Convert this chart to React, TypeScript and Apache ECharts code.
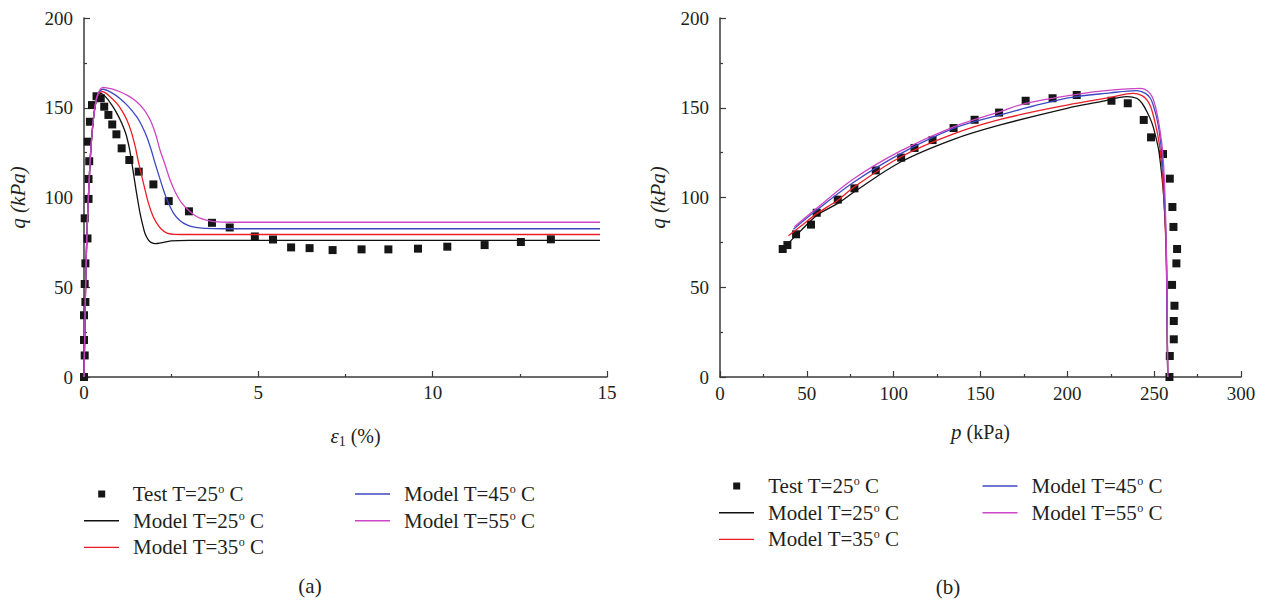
import React, { useEffect, useRef } from "react";
import * as echarts from "echarts";

const FONT = "Liberation Serif";
const INK = "#231f20";

const TEST = "Test T=25º C";
const M25 = "Model T=25º C";
const M35 = "Model T=35º C";
const M45 = "Model T=45º C";
const M55 = "Model T=55º C";

const C25 = "#111111";
const C35 = "#ec1c24";
const C45 = "#3b48c2";
const C55 = "#cc45c4";

// ---------- (a) q vs axial strain ----------
const testStrain: [number, number][] = [
  [0, 0], [0.02, 12], [0, 20.6], [0, 34.4], [0.04, 41.8], [0.02, 51.8], [0.04, 63.3],
  [0.1, 77.2], [0.02, 88.4], [0.13, 99.2], [0.13, 110.3], [0.15, 120.2], [0.11, 131.1],
  [0.17, 142.2], [0.23, 151.5], [0.36, 156.4], [0.48, 155.3], [0.58, 150.6], [0.7, 146],
  [0.81, 140.7], [0.93, 135.2], [1.08, 127.4], [1.3, 120.9], [1.57, 114.4], [1.99, 107.3],
  [2.43, 98], [3.01, 92.3], [3.67, 85.9], [4.18, 83.3], [4.9, 78.3], [5.42, 76.6],
  [5.94, 72.2], [6.47, 71.8], [7.13, 70.7], [7.96, 71.1], [8.73, 71.1], [9.58, 71.5],
  [10.42, 72.6], [11.49, 73.5], [12.53, 75.2], [13.39, 76.7],
];

const rise: [number, number][] = [
  [0, 0], [0.02, 22], [0.04, 45], [0.07, 70], [0.1, 88], [0.14, 106], [0.19, 125],
  [0.25, 140], [0.32, 151],
];

const strain25: [number, number][] = [
  ...rise, [0.4, 156.5], [0.47, 158], [0.6, 156.5], [0.8, 151.5], [0.94, 147], [1.08, 141.5],
  [1.2, 135.5], [1.3, 127.5], [1.37, 119.5], [1.43, 112], [1.49, 104.5], [1.55, 97.5],
  [1.61, 91], [1.68, 85], [1.75, 80], [1.85, 76.3], [1.95, 74.7], [2.05, 74.3], [2.2, 74.7],
  [2.5, 75.8], [3, 76.1], [5, 76.1], [10, 76.1], [14.8, 76.1],
];

const strain35: [number, number][] = [
  ...rise, [0.4, 157], [0.53, 159], [0.7, 157], [0.94, 152.4], [1.1, 148], [1.23, 143.2],
  [1.35, 137], [1.47, 128.3], [1.56, 120], [1.66, 111.6], [1.76, 103.5], [1.85, 96.7],
  [1.97, 90], [2.09, 85.6], [2.22, 82.3], [2.38, 80.2], [2.6, 79.5], [3, 79.4], [5, 79.4],
  [10, 79.4], [14.8, 79.4],
];

const strain45: [number, number][] = [
  ...rise, [0.4, 157.5], [0.55, 160.3], [0.8, 158.3], [1.03, 155.2], [1.27, 150.8],
  [1.51, 145], [1.66, 140], [1.8, 133.9], [1.92, 127], [2.04, 119], [2.16, 111.5],
  [2.28, 104.2], [2.42, 97], [2.57, 91.2], [2.75, 87.2], [2.95, 84.7], [3.2, 83.3],
  [3.5, 82.8], [4, 82.6], [6, 82.6], [10, 82.6], [14.8, 82.6],
];

const strain55: [number, number][] = [
  ...rise, [0.4, 158], [0.55, 161.4], [0.8, 160.5], [1.03, 158.9], [1.27, 156.6],
  [1.51, 153.4], [1.72, 149], [1.9, 143.2], [2.05, 135.5], [2.18, 126.5], [2.33, 118],
  [2.47, 109.7], [2.63, 102.5], [2.81, 96.7], [3.02, 92.5], [3.24, 89.3], [3.48, 87.5],
  [3.72, 86.6], [4.2, 86.2], [6, 86.2], [10, 86.2], [14.8, 86.2],
];

// ---------- (b) q vs p ----------
const testPQ: [number, number][] = [
  [36.1, 71.3], [38.8, 73.5], [43.8, 79.5], [52.4, 84.9], [55.7, 91.5], [67.8, 98.8],
  [77.4, 105.1], [89.7, 115.1], [104.3, 122.2], [112, 127.6], [122.4, 132], [134.5, 138.7],
  [146.6, 143.3], [160.7, 147.3], [176, 153.9], [191.5, 155.3], [205.4, 157.1],
  [225.4, 153.9], [234.8, 152.5], [244, 143.2], [248.2, 133.5], [255.1, 124.2],
  [259, 110.5], [260.5, 94.7], [261.1, 83.6], [263.2, 71.3], [262.8, 63.3], [260.3, 51.3],
  [261.7, 39.7], [261.3, 31.2], [261.3, 21], [259, 11.7], [258.8, 0],
];

const pq25: [number, number][] = [
  [36.5, 71.7], [46, 81], [55.7, 90], [67.8, 96.7], [77.4, 103.2], [104.3, 119.9],
  [134.5, 132.4], [161.4, 140.4], [199.8, 149.7], [220, 153.5], [234.4, 156.2],
  [240, 155.3], [243, 152.5], [246, 147.5], [248.8, 141.3], [251, 133.5], [252.6, 126.5],
  [254.2, 114], [255.5, 100.4], [256.9, 72.6], [257.4, 35.5], [257.8, 0],
];

const pq35: [number, number][] = [
  [39.4, 78.7], [46.1, 83.7], [55.7, 91], [67.8, 98.5], [77.4, 106], [104.3, 122.7],
  [134.5, 135.4], [161.4, 143.5], [199.8, 151.5], [225, 155.8], [238, 158], [243, 156.8],
  [245.9, 154.3], [248, 150.5], [249.7, 145], [251.5, 137.5], [253.2, 128.3], [254.5, 116],
  [255.5, 101], [256.8, 73], [257.4, 36], [257.8, 0],
];

const pq45: [number, number][] = [
  [42.3, 82.3], [55.7, 93], [77.4, 108.8], [104.3, 124.6], [134.5, 138.5], [161.4, 146],
  [199.8, 155.3], [225, 158.3], [240, 159.5], [245, 158], [247.8, 155.3], [249.6, 151],
  [251.3, 145], [252.8, 137.5], [254, 128.3], [255, 117], [255.8, 102], [256.9, 73],
  [257.4, 36], [257.8, 0],
];

const pq55: [number, number][] = [
  [42.8, 83.7], [55.7, 94], [77.4, 110.7], [104.3, 126.1], [134.5, 139.4], [161.4, 147.8],
  [176, 152.5], [205.5, 157.5], [225, 159.8], [242, 160.8], [246, 159.5], [248.8, 156.2],
  [250.5, 151.5], [252, 145], [253.4, 137], [254.6, 128.3], [255.5, 117], [256.2, 102],
  [257, 73], [257.5, 36], [257.8, 0],
];

const axisCommon = {
  axisLine: { show: true, onZero: false, lineStyle: { color: "#3a3a3a", width: 1.5 } },
  axisTick: { show: true, inside: true, length: 6, lineStyle: { color: "#3a3a3a", width: 1.2 } },
  minorTick: { show: true, splitNumber: 2, length: 3, lineStyle: { color: "#3a3a3a", width: 1.2 } },
  splitLine: { show: false },
  axisLabel: { color: INK, fontFamily: FONT, fontSize: 19 },
};

function legendText(padLeft: number) {
  return {
    color: INK,
    fontFamily: FONT,
    fontSize: 21,
    lineHeight: 22,
    padding: [0, 0, 0, padLeft],
    rich: { s: { fontSize: 12, lineHeight: 12, verticalAlign: "top", color: INK, fontFamily: FONT } },
  };
}

const legendFormatter = (name: string) => name.replace("º", "{s|o}");

function makeLegend(
  names: any[],
  left: number,
  top: number,
  itemWidth: number,
  itemHeight: number,
  padLeft: number
) {
  return {
    data: names,
    left,
    top,
    orient: "vertical",
    padding: 0,
    itemGap: 4.7,
    itemWidth,
    itemHeight,
    selectedMode: false,
    textStyle: legendText(padLeft),
    formatter: legendFormatter,
  };
}

function lineSeries(name: string, data: [number, number][], color: string, idx: number) {
  return {
    type: "line",
    name,
    data,
    xAxisIndex: idx,
    yAxisIndex: idx,
    symbol: "none",
    showSymbol: false,
    smooth: 0.35,
    z: 3,
    lineStyle: { color, width: 1.3 },
    itemStyle: { color },
  };
}

function scatterSeries(data: [number, number][], idx: number) {
  return {
    type: "scatter",
    name: TEST,
    data,
    xAxisIndex: idx,
    yAxisIndex: idx,
    symbol: "rect",
    symbolSize: 8,
    z: 2,
    itemStyle: { color: "#161616", opacity: 1 },
  };
}

const lineItem = (n: string) => ({ name: n, icon: "rect" });

export default function App() {
  const ref = useRef<HTMLDivElement>(null);

  useEffect(() => {
    if (!ref.current) return;
    const chart = echarts.init(ref.current, null, { renderer: "svg" });
    const option: any = {
      animation: false,
      backgroundColor: "#ffffff",
      grid: [
        { left: 84, top: 18, width: 523, height: 359 },
        { left: 720, top: 18, width: 521, height: 359 },
      ],
      xAxis: [
        {
          ...axisCommon,
          type: "value",
          gridIndex: 0,
          min: 0,
          max: 15,
          interval: 5,
          axisLabel: { ...axisCommon.axisLabel, margin: 6 },
          name: "{i|ε}{sub|1} (%)",
          nameLocation: "middle",
          nameGap: 47,
          nameTextStyle: {
            color: INK,
            fontFamily: FONT,
            fontSize: 20,
            lineHeight: 24,
            padding: [0, 0, 0, 20],
            rich: {
              i: { fontStyle: "italic", fontSize: 21, lineHeight: 24, fontFamily: FONT, color: INK },
              sub: { fontSize: 14, lineHeight: 14, verticalAlign: "bottom", fontFamily: FONT, color: INK },
            },
          },
        },
        {
          ...axisCommon,
          type: "value",
          gridIndex: 1,
          min: 0,
          max: 300,
          interval: 50,
          axisLabel: { ...axisCommon.axisLabel, margin: 7 },
          name: "{i|p} (kPa)",
          nameLocation: "middle",
          nameGap: 44,
          nameTextStyle: {
            color: INK,
            fontFamily: FONT,
            fontSize: 20,
            rich: { i: { fontStyle: "italic", fontSize: 21, fontFamily: FONT, color: INK } },
          },
        },
      ],
      yAxis: [
        {
          ...axisCommon,
          type: "value",
          gridIndex: 0,
          min: 0,
          max: 200,
          interval: 50,
          axisLabel: { ...axisCommon.axisLabel, margin: 11 },
          name: "q (kPa)",
          nameLocation: "middle",
          nameGap: 56,
          nameTextStyle: { color: INK, fontFamily: FONT, fontSize: 21, fontStyle: "italic" },
        },
        {
          ...axisCommon,
          type: "value",
          gridIndex: 1,
          min: 0,
          max: 200,
          interval: 50,
          axisLabel: { ...axisCommon.axisLabel, margin: 11 },
          name: "q (kPa)",
          nameLocation: "middle",
          nameGap: 52,
          nameTextStyle: { color: INK, fontFamily: FONT, fontSize: 21, fontStyle: "italic" },
        },
      ],
      legend: [
        makeLegend([{ name: TEST, icon: "rect" }], 98.2, 483, 7, 7, 22.5),
        makeLegend([lineItem(M25), lineItem(M35)], 84, 509.7, 35, 1.4, 9),
        makeLegend([lineItem(M45), lineItem(M55)], 355, 483, 35, 1.4, 9),
        makeLegend([{ name: TEST, icon: "rect" }], 733.2, 475, 7, 7, 23),
        makeLegend([lineItem(M25), lineItem(M35)], 719, 501.7, 35, 1.4, 9),
        makeLegend([lineItem(M45), lineItem(M55)], 982.5, 475, 35, 1.4, 9),
      ],
      graphic: [
        {
          type: "text",
          x: 310,
          y: 586,
          style: {
            text: "(a)",
            fill: INK,
            fontFamily: FONT,
            fontSize: 21,
            align: "center",
            verticalAlign: "middle",
            textAlign: "center",
            textVerticalAlign: "middle",
          },
        },
        {
          type: "text",
          x: 948,
          y: 586.5,
          style: {
            text: "(b)",
            fill: INK,
            fontFamily: FONT,
            fontSize: 21,
            align: "center",
            verticalAlign: "middle",
            textAlign: "center",
            textVerticalAlign: "middle",
          },
        },
      ],
      series: [
        scatterSeries(testStrain, 0),
        lineSeries(M25, strain25, C25, 0),
        lineSeries(M35, strain35, C35, 0),
        lineSeries(M45, strain45, C45, 0),
        lineSeries(M55, strain55, C55, 0),
        scatterSeries(testPQ, 1),
        lineSeries(M25, pq25, C25, 1),
        lineSeries(M35, pq35, C35, 1),
        lineSeries(M45, pq45, C45, 1),
        lineSeries(M55, pq55, C55, 1),
      ],
    };
    chart.setOption(option);
    return () => chart.dispose();
  }, []);

  return (
    <div
      ref={ref}
      style={{ position: "absolute", left: 0, top: 0, width: 1266, height: 601, background: "#fff" }}
    />
  );
}
